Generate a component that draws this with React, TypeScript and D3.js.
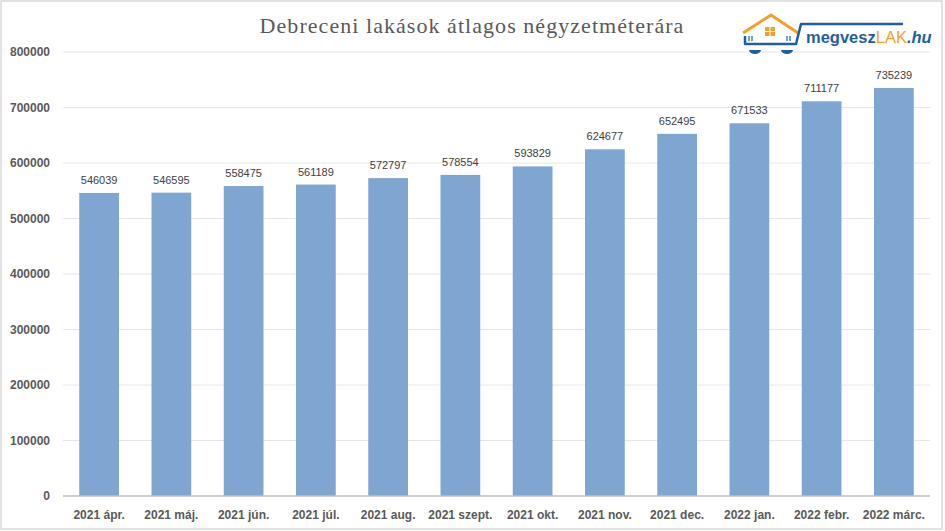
import React from "react";
import * as d3 from "d3";

const categories = ["2021 ápr.", "2021 máj.", "2021 jún.", "2021 júl.", "2021 aug.", "2021 szept.", "2021 okt.", "2021 nov.", "2021 dec.", "2022 jan.", "2022 febr.", "2022 márc."];
const values = [546039, 546595, 558475, 561189, 572797, 578554, 593829, 624677, 652495, 671533, 711177, 735239];
const yTicks = [0, 100000, 200000, 300000, 400000, 500000, 600000, 700000, 800000];
const title = "Debreceni lakások átlagos négyzetméterára";

export default function App() {
  const W = 945, H = 531;
  const left = 63, right = 930, top = 52, bottom = 496;
  const x = d3.scaleBand<string>().domain(categories).range([left, right]).paddingInner(0.45).paddingOuter(0.225);
  const y = d3.scaleLinear().domain([0, 800000]).range([bottom, top]);
  const sans = "'Liberation Sans', Arial, sans-serif";
  return (
    <svg width={W} height={H} style={{ position: "absolute", left: 0, top: 0, background: "#fff" }}>
      <rect x={1} y={1} width={941} height={528} fill="#fff" stroke="#d9d9d9" strokeWidth={1.5} />
      <text x={472} y={33} textAnchor="middle" fontFamily="'Liberation Serif', 'DejaVu Serif', serif" fontSize={22} fill="#595959" letterSpacing={1.05}>{title}</text>
      {yTicks.map((t) => (
        <g key={t}>
          {t > 0 && <line x1={left} x2={right} y1={y(t)} y2={y(t)} stroke="#e6e6e6" strokeWidth={1} />}
          <text x={50} y={y(t) + 4} textAnchor="end" fontFamily={sans} fontWeight="bold" fontSize={12} fill="#595959">{t}</text>
        </g>
      ))}
      {categories.map((c, i) => (
        <g key={c}>
          <rect x={x(c)} y={y(values[i])} width={x.bandwidth()} height={bottom - y(values[i])} fill="#7fa6d1" />
          <text x={(x(c) as number) + x.bandwidth() / 2} y={y(values[i]) - 9} textAnchor="middle" fontFamily={sans} fontSize={11} fill="#404040">{values[i]}</text>
          <text x={(x(c) as number) + x.bandwidth() / 2} y={519} textAnchor="middle" fontFamily={sans} fontWeight="bold" fontSize={12} fill="#595959">{c}</text>
        </g>
      ))}
      <line x1={left} x2={right} y1={bottom} y2={bottom} stroke="#bfbfbf" strokeWidth={1.5} />
      {/* logo */}
      <g>
        <path d="M743,33 L771,15 L798,33" fill="none" stroke="#f5a02a" strokeWidth={3} strokeLinejoin="round" />
        <rect x={765} y={27} width={4.5} height={4} fill="#f5a02a" />
        <rect x={770.5} y={27} width={4.5} height={4} fill="#f5a02a" />
        <rect x={765} y={32} width={4.5} height={4} fill="#f5a02a" />
        <rect x={770.5} y={32} width={4.5} height={4} fill="#f5a02a" />
        <path d="M745,36 L745,44 L796,44 L801,24 L903,24" fill="none" stroke="#1f5f9f" strokeWidth={2.5} strokeLinejoin="round" />
        <line x1={749} x2={749} y1={36} y2={41} stroke="#1f5f9f" strokeWidth={1.2} />
        <line x1={752} x2={752} y1={36} y2={41} stroke="#1f5f9f" strokeWidth={1.2} />
        <line x1={787} x2={787} y1={36} y2={41} stroke="#1f5f9f" strokeWidth={1.2} />
        <line x1={790} x2={790} y1={36} y2={41} stroke="#1f5f9f" strokeWidth={1.2} />
        <path d="M749,50 A6,4 0 0 0 761,50 Z" fill="#1f5f9f" />
        <path d="M781,50 A6,4 0 0 0 793,50 Z" fill="#1f5f9f" />
        <text x={806} y={43} fontFamily={sans} fontWeight="bold" fontSize={16.5} fill="#1f5f9f">megvesz<tspan fill="#f5a02a" fontWeight="normal">LAK</tspan><tspan fontStyle="italic" fontWeight="bold">.hu</tspan></text>
      </g>
    </svg>
  );
}
